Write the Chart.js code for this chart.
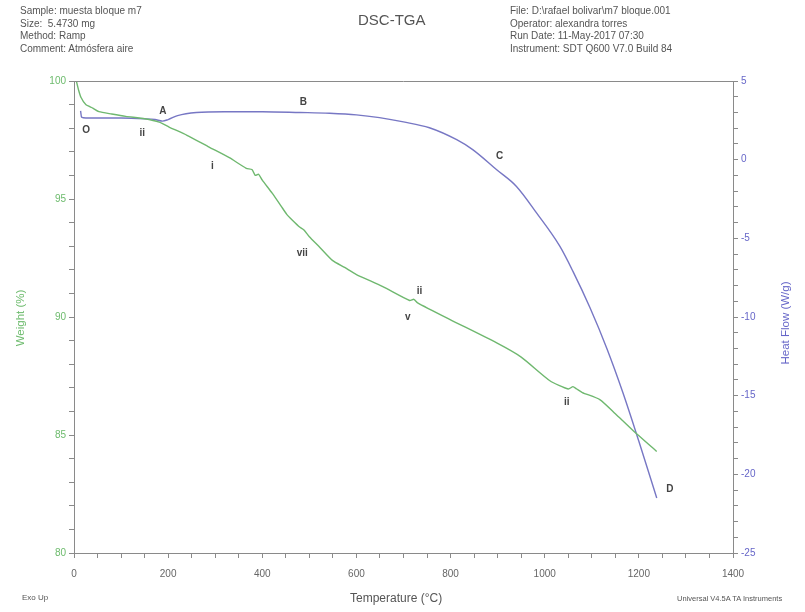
<!DOCTYPE html>
<html>
<head>
<meta charset="utf-8">
<script src="https://cdn.jsdelivr.net/npm/chart.js@4.4.1/dist/chart.umd.min.js"></script>
<style>
  html, body { margin: 0; padding: 0; background: #fff; }
  #wrap { position: relative; width: 805px; height: 612px; font-family: "Liberation Sans", Arial, sans-serif; }
  #chart { position: absolute; left: 0; top: 0; }
  .txt { position: absolute; color: #555; font-size: 10px; line-height: 12.5px; white-space: nowrap; }
  .rot { position: absolute; white-space: nowrap; font-size: 11.5px; transform-origin: center center; }
</style>
</head>
<body>
<div id="wrap">
  <canvas id="chart" width="805" height="612"></canvas>

  <div class="txt" style="left:20px; top:5px;">Sample: muesta bloque m7<br>Size: &nbsp;5.4730 mg<br>Method: Ramp<br>Comment: Atmósfera aire</div>
  <div class="txt" style="left:358px; top:14px; font-size:15px; color:#555;">DSC-TGA</div>
  <div class="txt" style="left:510px; top:5px;">File: D:\rafael bolivar\m7 bloque.001<br>Operator: alexandra torres<br>Run Date: 11-May-2017 07:30<br>Instrument: SDT Q600 V7.0 Build 84</div>

  <div class="rot" style="left:-10px; top:312px; width:60px; text-align:center; color:#6dbb6d; transform: rotate(-90deg);">Weight (%)</div>
  <div class="rot" style="left:740px; top:317px; width:90px; text-align:center; color:#6666c8; transform: rotate(-90deg);">Heat Flow (W/g)</div>

  <div class="txt" style="left:22px; top:592px; font-size:8px;">Exo Up</div>
  <div class="txt" style="left:350px; top:592px; font-size:12px;">Temperature (°C)</div>
  <div class="txt" style="left:677px; top:593px; font-size:7.5px;">Universal V4.5A TA Instruments</div>
</div>
<script>
// TGA weight loss curve (temperature °C, weight %)
const tempWeight = [5, 10, 15, 25, 40, 53, 80, 110, 150, 181, 202, 240, 287, 330, 366, 378, 385, 392, 400, 421, 440, 452, 464, 480, 488, 500, 520, 549, 575, 600, 655, 713, 722, 730, 798, 898, 950, 1011, 1050, 1060, 1068, 1080, 1117, 1150, 1187, 1238];
const weight =     [100, 99.6, 99.3, 99.0, 98.85, 98.7, 98.6, 98.5, 98.4, 98.26, 98.05, 97.7, 97.2, 96.75, 96.3, 96.25, 96.0, 96.05, 95.8, 95.25, 94.7, 94.35, 94.1, 93.8, 93.7, 93.4, 93.0, 92.4, 92.1, 91.8, 91.3, 90.7, 90.75, 90.6, 89.9, 88.9, 88.3, 87.3, 86.95, 87.05, 86.95, 86.8, 86.5, 85.9, 85.2, 84.3];

// DSC heat flow curve (temperature °C, W/g)
const tempHeat = [14, 16, 25, 60, 100, 150, 172, 188, 200, 220, 260, 320, 400, 480, 543, 600, 649, 700, 755, 813, 847, 898, 940, 983, 1032, 1060, 1096, 1132, 1166, 1200, 1238];
const heatFlow = [3.1, 2.7, 2.65, 2.65, 2.65, 2.6, 2.55, 2.45, 2.55, 2.8, 3.0, 3.05, 3.05, 3.0, 2.95, 2.85, 2.67, 2.4, 2.03, 1.27, 0.64, -0.64, -1.7, -3.4, -5.5, -7.1, -9.4, -12.0, -14.8, -17.9, -21.5];

// Point labels placed on the weight scale
const markText = ['O', 'A', 'B', 'ii', 'i', 'vii', 'ii', 'v', 'C', 'ii', 'D'];
const markTemp = [26, 189, 487, 145, 294, 485, 734, 709, 904, 1047, 1266];
const markWeight = [97.9, 98.7, 99.1, 97.8, 96.4, 92.7, 91.1, 90.0, 96.8, 86.4, 82.7];

const weightPts = tempWeight.map((t, i) => ({ x: t, y: weight[i] }));
const heatPts = tempHeat.map((t, i) => ({ x: t, y: heatFlow[i] }));

const axisGray = '#8a8a8a';

// Frame top line + letter marks on the curves
const extras = {
  id: 'extras',
  afterDatasetsDraw(chart) {
    const { ctx, chartArea, scales } = chart;
    ctx.save();
    ctx.strokeStyle = axisGray;
    ctx.lineWidth = 1;
    ctx.beginPath();
    ctx.moveTo(chartArea.left, chartArea.top + 0.5);
    ctx.lineTo(chartArea.right, chartArea.top + 0.5);
    ctx.stroke();

    ctx.fillStyle = '#444';
    ctx.font = 'bold 10px "Liberation Sans", Arial, sans-serif';
    ctx.textAlign = 'center';
    ctx.textBaseline = 'middle';
    markText.forEach((s, i) => {
      ctx.fillText(s, scales.x.getPixelForValue(markTemp[i]), scales.y.getPixelForValue(markWeight[i]));
    });
    ctx.restore();
  }
};

new Chart(document.getElementById('chart'), {
  type: 'line',
  data: {
    datasets: [
      { data: weightPts, yAxisID: 'y', borderColor: '#6fb86f', borderWidth: 1.4, pointRadius: 0, tension: 0.2 },
      { data: heatPts, yAxisID: 'y2', borderColor: '#7777c4', borderWidth: 1.4, pointRadius: 0, cubicInterpolationMode: 'monotone' }
    ]
  },
  options: {
    responsive: false,
    animation: false,
    events: [],
    layout: { padding: { top: 81, right: 0, bottom: 0, left: 0 } },
    plugins: { legend: { display: false }, tooltip: { enabled: false } },
    scales: {
      x: {
        type: 'linear', min: 0, max: 1400,
        afterFit: s => { s.height = 59; },
        border: { color: axisGray, width: 1 },
        grid: { drawOnChartArea: false, tickLength: 5, color: axisGray },
        ticks: {
          stepSize: 50, autoSkip: false, maxRotation: 0, color: '#666', padding: 10,
          font: { size: 10, family: '"Liberation Sans", Arial' },
          callback: v => (v % 200 === 0 ? v : '')
        }
      },
      y: {
        position: 'left', min: 80, max: 100,
        afterFit: s => { s.width = 74; },
        border: { color: axisGray, width: 1 },
        grid: { drawOnChartArea: false, tickLength: 5, color: axisGray },
        ticks: {
          stepSize: 1, autoSkip: false, color: '#6dbb6d',
          font: { size: 10, family: '"Liberation Sans", Arial' },
          callback: v => (v % 5 === 0 ? v : '')
        }
      },
      y2: {
        position: 'right', min: -25, max: 5,
        afterFit: s => { s.width = 72; },
        border: { color: axisGray, width: 1 },
        grid: { drawOnChartArea: false, tickLength: 5, color: axisGray },
        ticks: {
          stepSize: 1, autoSkip: false, color: '#6666c8',
          font: { size: 10, family: '"Liberation Sans", Arial' },
          callback: v => (v % 5 === 0 ? v : '')
        }
      }
    }
  },
  plugins: [extras]
});
</script>
</body>
</html>
